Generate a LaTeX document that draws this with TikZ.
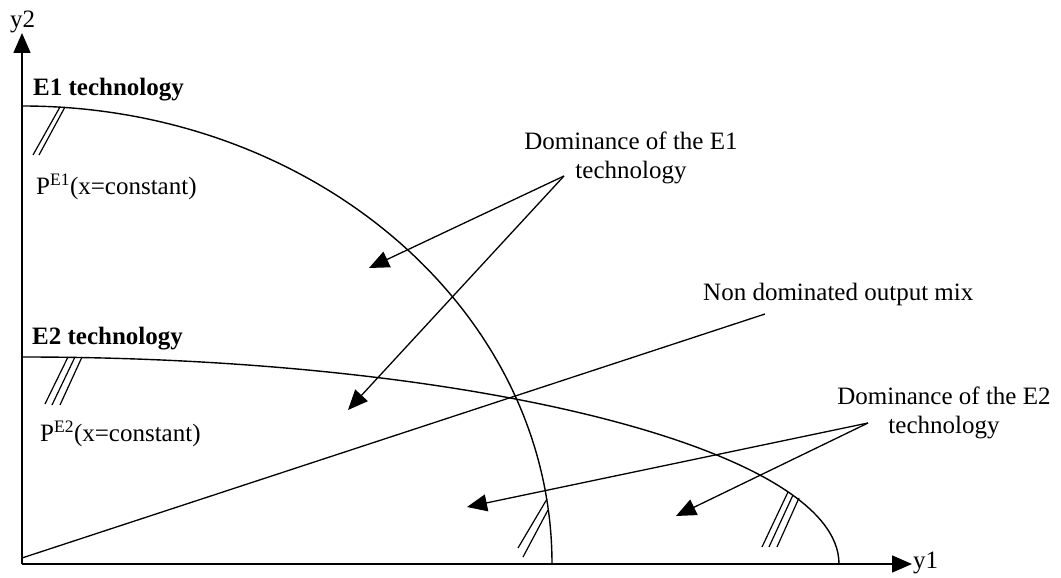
\documentclass[tikz,border=0pt]{standalone}
\usepackage{fontspec}
\setmainfont{Liberation Serif}
\usetikzlibrary{arrows.meta}
\begin{document}
\begin{tikzpicture}[x=1pt,y=1pt,
  lbl/.style={inner sep=0pt, font=\fontsize{25}{29}\selectfont},
  boldlbl/.style={inner sep=0pt, font=\fontsize{25}{29}\selectfont\bfseries},
  axisline/.style={line width=1.6pt, -{Triangle[length=20pt,width=17pt]}},
  curveline/.style={line width=1.4pt},
  hatchline/.style={line width=1.2pt},
  pointer/.style={line width=1.3pt, -{Triangle[length=20pt,width=17pt]}}]
\useasboundingbox (0,0) rectangle (1061,578);

% axes
\coordinate (O) at (22,14);
\coordinate (ytip) at (22,545);
\coordinate (xtip) at (912,14);
\draw[axisline] (O) -- (ytip);
\draw[axisline] (O) -- (xtip);
\node[lbl, anchor=base west] (y2) at (10,550) {y2};
\node[lbl, anchor=base west] (y1) at (913,9) {y1};

% frontiers
\coordinate (e1top) at (22,472);
\coordinate (e2top) at (22,221);
\draw[curveline] (e1top) arc[start angle=90, end angle=0, x radius=530pt, y radius=458pt];
\draw[curveline] (e2top) arc[start angle=90, end angle=0, x radius=817pt, y radius=207pt];

% hatch marks E1
\draw[hatchline] (60,471) -- (33,423);
\draw[hatchline] (65,471) -- (39,423);
\draw[hatchline] (547,79) -- (518,30);
\draw[hatchline] (548,68) -- (523,21);
% hatch marks E2
\draw[hatchline] (68,221) -- (45,174);
\draw[hatchline] (75,221) -- (52,173);
\draw[hatchline] (82,221) -- (60,173);
\draw[hatchline] (788,86) -- (762,31);
\draw[hatchline] (793,83) -- (769,31);
\draw[hatchline] (799,80) -- (777,31);

% labels left
\node[boldlbl, anchor=base west] (e1lbl) at (33,482) {E1 technology};
\node[lbl, anchor=base west] (pe1) at (36,383) {P\textsuperscript{E1}(x=constant)};
\node[boldlbl, anchor=base west] (e2lbl) at (32,233) {E2 technology};
\node[lbl, anchor=base west] (pe2) at (40,136) {P\textsuperscript{E2}(x=constant)};

% non dominated output mix
\node[lbl, anchor=base west] (nd) at (703,277) {Non dominated output mix};
\coordinate (ndstart) at (22,20);
\coordinate (ndend) at (765,264);
\draw[line width=1.3pt] (ndstart) -- (ndend);

% dominance labels
\node[lbl, align=center] (dom1) at (631,420) {Dominance of the E1\\technology};
\node[lbl, align=center] (dom2) at (944,165) {Dominance of the E2\\technology};

\coordinate (d1src) at (564,402);
\coordinate (d1a) at (369,310);
\coordinate (d1b) at (348,168);
\draw[pointer] (d1src) -- (d1a);
\draw[pointer] (d1src) -- (d1b);

\coordinate (d2src) at (868,155);
\coordinate (d2a) at (467,71);
\coordinate (d2b) at (676,62);
\draw[pointer] (d2src) -- (d2a);
\draw[pointer] (d2src) -- (d2b);
\end{tikzpicture}
\end{document}
